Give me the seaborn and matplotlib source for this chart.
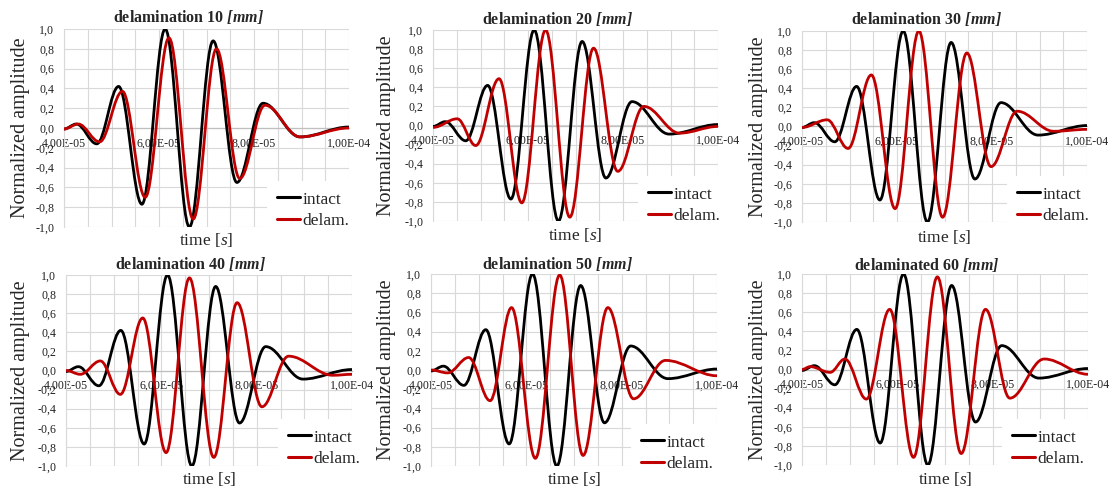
import numpy as np
import matplotlib
matplotlib.use("Agg")
import matplotlib.pyplot as plt
from matplotlib.path import Path
from matplotlib.patches import PathPatch
from matplotlib.lines import Line2D
from matplotlib.ticker import FuncFormatter, MultipleLocator, FixedLocator
import seaborn as sns

# ------------------ DATA (time in microseconds) ------------------
# extrema of each wave packet (start point, peaks/troughs, end point)
intact_t = [40, 42.6, 46.9, 51.5, 56.4, 61.3, 66.4, 71.4, 76.4, 81.9, 89.7, 100]
intact_a = [-0.01, 0.04, -0.16, 0.42, -0.77, 1.0, -1.0, 0.88, -0.55, 0.25, -0.09, 0.01]

delam10_t = [40, 43.0, 47.5, 52.3, 57.1, 62.1, 67.2, 72.1, 77.0, 82.3, 89.7, 100]
delam10_a = [-0.01, 0.04, -0.14, 0.37, -0.70, 0.91, -0.92, 0.80, -0.51, 0.23, -0.09, 0.0]

delam20_t = [40, 45.1, 49.0, 53.9, 58.7, 63.7, 68.8, 73.8, 78.9, 84.4, 91.9, 100]
delam20_a = [-0.02, 0.07, -0.21, 0.49, -0.81, 1.0, -0.96, 0.81, -0.48, 0.20, -0.08, -0.01]

delam30_t = [40, 45.3, 49.7, 54.6, 59.6, 64.6, 69.6, 74.7, 79.8, 85.3, 93.0, 100]
delam30_a = [-0.01, 0.07, -0.23, 0.54, -0.86, 1.0, -0.95, 0.77, -0.42, 0.16, -0.05, -0.03]

delam40_t = [40, 43.0, 47.2, 51.4, 56.1, 61.0, 65.9, 71.0, 75.9, 81.1, 86.7, 96.0, 100]
delam40_a = [0.0, -0.04, 0.10, -0.25, 0.55, -0.86, 0.97, -0.91, 0.71, -0.38, 0.15, -0.05, -0.04]

delam50_t = [40, 43.5, 47.9, 52.4, 56.9, 61.9, 67.0, 71.9, 77.1, 82.5, 89.2, 100]
delam50_a = [0.0, -0.03, 0.13, -0.32, 0.65, -0.92, 0.99, -0.89, 0.65, -0.30, 0.10, -0.06]

delam60_t = [40, 41.7, 45.9, 49.0, 53.5, 58.4, 63.4, 68.4, 73.4, 78.5, 83.6, 90.8, 100]
delam60_a = [0.0, 0.03, -0.03, 0.11, -0.31, 0.63, -0.92, 0.97, -0.88, 0.63, -0.30, 0.11, -0.05]

titles = ["delamination 10", "delamination 20", "delamination 30",
          "delamination 40", "delamination 50", "delaminated 60"]
delam_t = [delam10_t, delam20_t, delam30_t, delam40_t, delam50_t, delam60_t]
delam_a = [delam10_a, delam20_a, delam30_a, delam40_a, delam50_a, delam60_a]

x_major = [4e-5, 6e-5, 8e-5, 1e-4]
series_labels = ["intact", "delam."]

# ------------------ LAYOUT (pixels) ------------------
W, H = 1117, 490
# plot boxes: left, top, right, bottom
boxes = [(64, 29, 349, 227), (433, 30, 718, 221), (802, 31, 1087, 222),
         (66, 275, 352, 466), (431, 274, 717, 466), (802, 274, 1088, 465)]
title_pos = [(188, 17), (557, 19), (926, 19), (190, 264), (557, 264), (927, 265)]
ylab_x = [21, 387, 758, 21, 386, 758]
xlab_y = [240, 235, 237, 479, 479, 479]
legend_pos = [(277, 197), (648, 192), (1017, 192), (288, 435), (641, 440), (1012, 435)]

RED = "#c00000"
GRID = "#d9d9d9"
K = 1 - 2 / np.pi  # handle length for smooth half-wave between extrema

sns.set_style("whitegrid")
plt.rcParams["font.family"] = ["Liberation Serif", "DejaVu Serif"]
plt.rcParams["mathtext.fontset"] = "custom"
plt.rcParams["mathtext.rm"] = "Liberation Serif"
plt.rcParams["mathtext.it"] = "Liberation Serif:italic"
plt.rcParams["mathtext.bf"] = "Liberation Serif:bold"
plt.rcParams["mathtext.bfit"] = "Liberation Serif:italic:bold"


def wave_path(t_us, amp):
    t = np.asarray(t_us) * 1e-6
    verts = [(t[0], amp[0])]
    codes = [Path.MOVETO]
    for i in range(len(t) - 1):
        dt = t[i + 1] - t[i]
        verts += [(t[i] + K * dt, amp[i]), (t[i + 1] - K * dt, amp[i + 1]), (t[i + 1], amp[i + 1])]
        codes += [Path.CURVE4] * 3
    return Path(verts, codes)


def yfmt(v, p):
    return f"{round(v, 1) + 0.0:.1f}".replace(".", ",")


def xfmt(v, p):
    return f"{v:.2E}".replace(".", ",")


fig = plt.figure(figsize=(W / 100, H / 100), dpi=100)

for i in range(6):
    l, t, r, b = boxes[i]
    ax = fig.add_axes([l / W, 1 - b / H, (r - l) / W, (b - t) / H])

    ax.set_xlim(4e-5, 1e-4)
    ax.set_ylim(-1, 1)
    ax.xaxis.set_major_locator(FixedLocator(x_major))
    ax.xaxis.set_minor_locator(MultipleLocator(5e-6))
    ax.yaxis.set_major_locator(MultipleLocator(0.2))
    ax.xaxis.set_major_formatter(FuncFormatter(xfmt))
    ax.yaxis.set_major_formatter(FuncFormatter(yfmt))
    ax.grid(which="both", axis="x", color=GRID, lw=0.8)
    ax.grid(which="major", axis="y", color=GRID, lw=0.8)
    ax.set_axisbelow(True)

    for s in ["top", "right"]:
        ax.spines[s].set_visible(False)
    ax.spines["left"].set_color(GRID)
    ax.spines["left"].set_linewidth(0.8)
    ax.spines["bottom"].set_position(("data", 0))
    ax.spines["bottom"].set_color("#bfbfbf")
    ax.spines["bottom"].set_linewidth(0.9)
    ax.tick_params(axis="both", which="both", length=0, labelsize=8.6, colors="#222222")
    ax.tick_params(axis="x", pad=7)
    ax.tick_params(axis="y", pad=7)

    ax.add_patch(PathPatch(wave_path(intact_t, intact_a), fill=False, edgecolor="black",
                           lw=2.0, capstyle="round", joinstyle="round", zorder=3))
    ax.add_patch(PathPatch(wave_path(delam_t[i], delam_a[i]), fill=False, edgecolor=RED,
                           lw=2.0, capstyle="round", joinstyle="round", zorder=4))

    handles = [Line2D([], [], color="black", lw=2.2), Line2D([], [], color=RED, lw=2.2)]
    hx, hy = legend_pos[i]
    leg = ax.legend(handles, series_labels, loc="upper left",
                    bbox_to_anchor=((hx - 10) / W, 1 - (hy - 16) / H),
                    bbox_transform=fig.transFigure, fontsize=12.5, frameon=True,
                    facecolor="white", edgecolor="none", framealpha=1, fancybox=False,
                    handlelength=1.3, handletextpad=0.15, labelspacing=0.3,
                    borderpad=0.6, borderaxespad=0)
    leg.set_zorder(5)

    fig.text(title_pos[i][0] / W, 1 - title_pos[i][1] / H,
             titles[i] + r" $\mathbfit{[mm]}$", ha="center", va="center",
             fontsize=11.5, fontweight="bold")
    fig.text(ylab_x[i] / W, 1 - (t + b) / 2 / H, "Normalized amplitude",
             rotation=90, ha="center", va="center", fontsize=14.5)
    fig.text((l + r) / 2 / W, 1 - xlab_y[i] / H, r"time $\mathit{[s]}$",
             ha="center", va="center", fontsize=12.5)

fig.savefig("out.png", dpi=100)
